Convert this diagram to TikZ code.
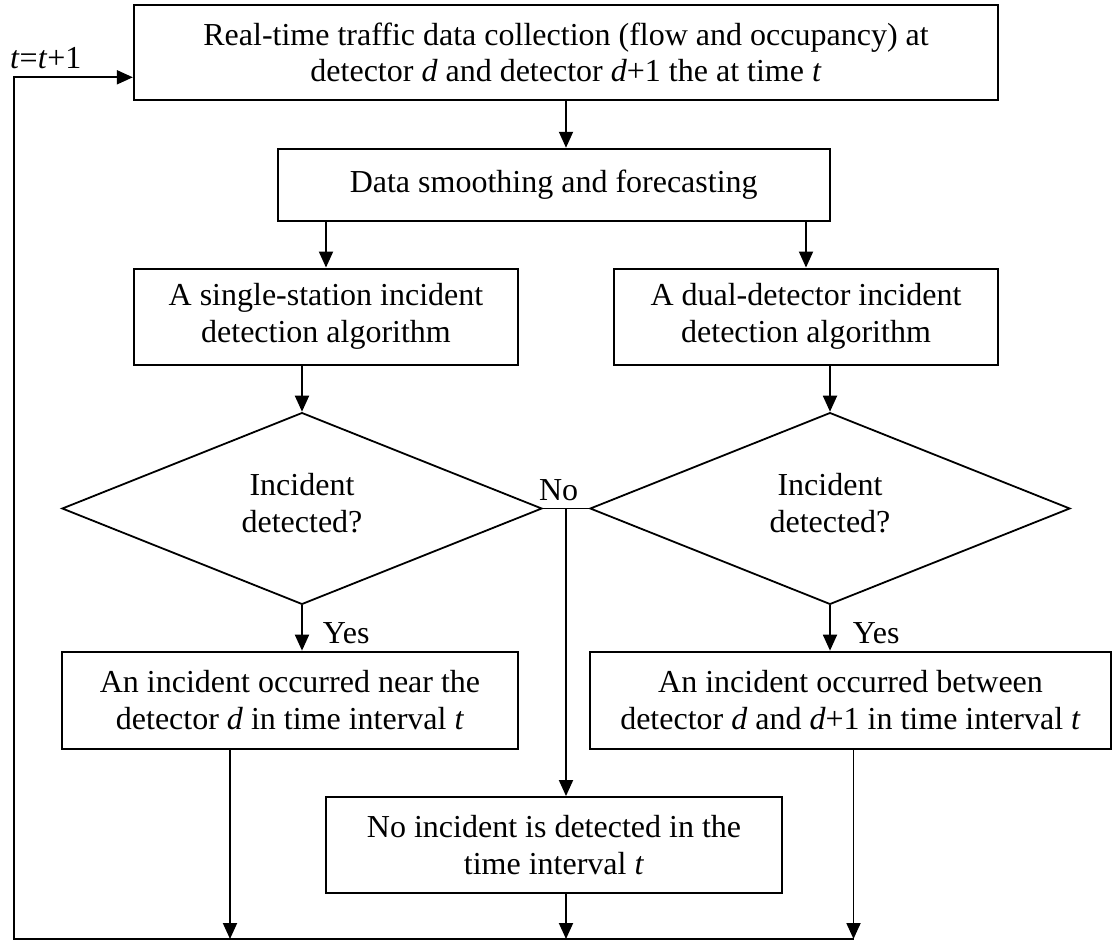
\documentclass[tikz,border=0pt]{standalone}
\usepackage{fontspec}
\setmainfont{Liberation Serif}
\usetikzlibrary{shapes.geometric, arrows.meta}

\begin{document}
\begin{tikzpicture}[x=1pt, y=-1pt, font=\fontsize{32}{36.8}\selectfont,
		box/.style={rectangle, draw, line width=2.3pt, align=center, inner sep=0pt},
		dec/.style={diamond, draw, line width=1.8pt, align=center, inner sep=0pt, minimum width=480pt, minimum height=191pt, text depth=12pt},
		arr/.style={-{Triangle[length=16pt, width=14pt]}, line width=1.9pt},
		lbl/.style={inner sep=0pt}]
		\useasboundingbox (0,0) rectangle (1113,942);

		\node [box, minimum width=864pt, minimum height=95pt] (top) at (566,52.4) {Real-time traffic data collection (flow and occupancy) at\\detector \textit{d} and detector \textit{d}+1 the at time \textit{t}};
		\node [box, minimum width=552pt, minimum height=72pt] (smooth) at (553.7,184.9) {Data smoothing and forecasting};
		\node [box, minimum width=384pt, minimum height=96pt] (single) at (326,316.7) {A single-station incident\\detection algorithm};
		\node [box, minimum width=384pt, minimum height=96pt] (dual) at (806,316.7) {A dual-detector incident\\detection algorithm};
		\node [dec] (detL) at (302,508.5) {Incident\\detected?};
		\node [dec] (detR) at (830,508.5) {Incident\\detected?};
		\node [box, minimum width=456pt, minimum height=97pt] (near) at (290,700.3) {An incident occurred near the\\detector \textit{d} in time interval \textit{t}};
		\node [box, minimum width=521pt, minimum height=97pt] (between) at (850.5,700.3) {An incident occurred between\\detector \textit{d} and \textit{d}+1 in time interval \textit{t}};
		\node [box, minimum width=456pt, minimum height=96pt] (noinc) at (554,845.2) {No incident is detected in the\\time interval \textit{t}};

		\node [lbl, anchor=base west] (inc) at (10,68) {\textit{t}=\textit{t}+1};
		\node [lbl, anchor=base west] (no) at ([xshift=-4pt, yshift=8pt]detL.east) {No};

		\path (detL.east) -- coordinate[midway] (split) (detR.west);
		\coordinate (back) at (14.2,77.3);
		\coordinate (foot) at (14.2,939);

		\path[arr] (top.south) edge (top.south |- smooth.north);
		\path[arr] (smooth.south -| single.north) edge (single.north);
		\path[arr] (smooth.south -| dual.north) edge (dual.north);
		\path[arr] (single.south -| detL.north) edge (detL.north);
		\path[arr] (dual.south -| detR.north) edge (detR.north);
		\path[arr] (detL.south) edge node [lbl, anchor=base west, pos=0.85, xshift=20pt] {Yes} (detL.south |- near.north);
		\path[arr] (detR.south) edge node [lbl, anchor=base west, pos=0.85, xshift=22pt] {Yes} (detR.south |- between.north);
		\draw[line width=1.9pt] (detL.east) -- (detR.west);
		\path[arr] (split) edge (split |- noinc.north);
		\path[arr] ([xshift=-60pt]near.south) edge ([xshift=-60pt]near.south |- foot);
		\path[arr] (split |- noinc.south) edge (split |- foot);
		\path[arr] ([xshift=3pt]between.south) edge ([xshift=3pt]between.south |- foot);
		\draw[arr] ([xshift=3pt]between.south |- foot) -- (foot) -- (back) -- (back -| top.west);
	\end{tikzpicture}
\end{document}
